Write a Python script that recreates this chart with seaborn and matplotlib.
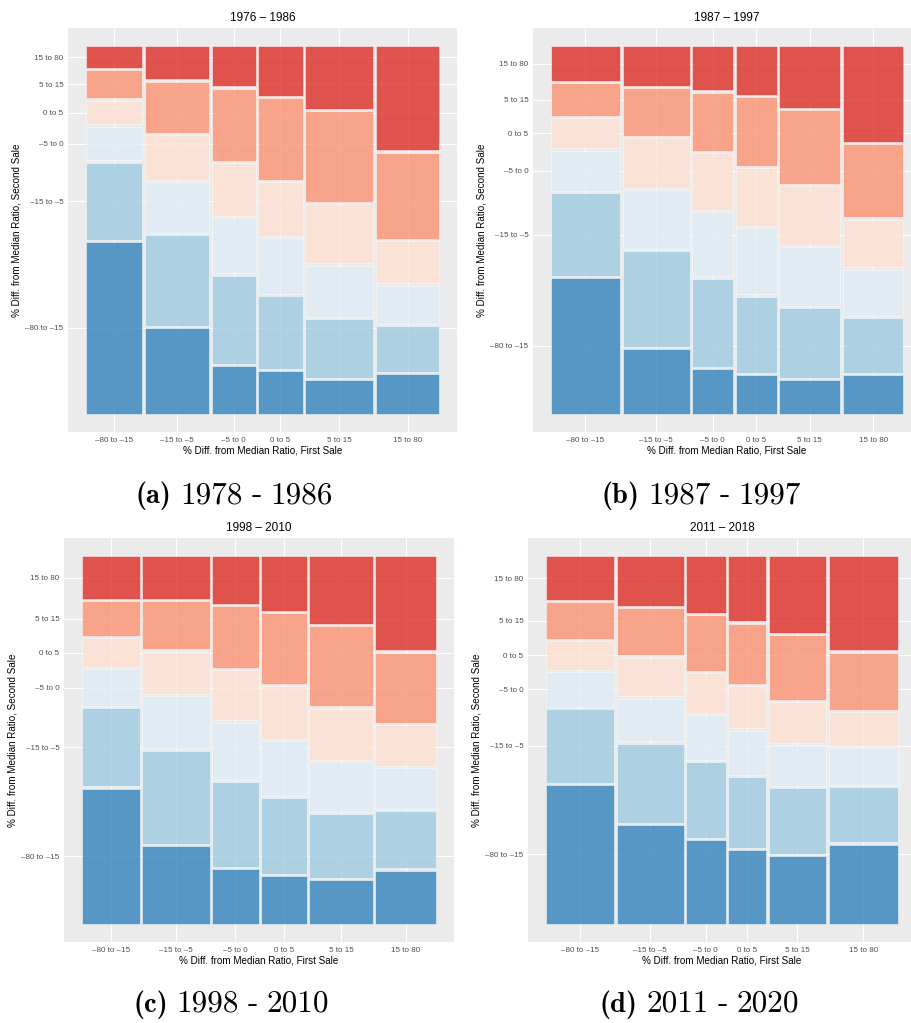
import numpy as np
import matplotlib
matplotlib.use("Agg")
import matplotlib.pyplot as plt
import seaborn as sns

# ---------------------------------------------------------------- data
bins = ["–80 to –15", "–15 to –5", "–5 to 0", "0 to 5", "5 to 15", "15 to 80"]

panel_titles = ["1976 – 1986", "1987 – 1997", "1998 – 2010", "2011 – 2018"]
caption_tags = ["(a)", "(b)", "(c)", "(d)"]
caption_years = ["1978 - 1986", "1987 - 1997", "1998 - 2010", "2011 - 2020"]

# share of sale pairs in each first-sale bin (%)
first_share_a = [16.6, 18.9, 12.8, 13.1, 19.9, 18.6]
first_share_b = [20.4, 19.7, 12.1, 12.0, 18.0, 17.8]
first_share_c = [17.0, 19.7, 13.6, 13.4, 18.5, 17.9]
first_share_d = [20.2, 19.6, 11.6, 11.2, 16.9, 20.5]

# within each first-sale bin: share of second-sale bins (%), lowest bin first
second_share_a = [
    [48.2, 21.7, 9.5, 6.7, 7.9, 6.1],
    [24.1, 25.5, 14.2, 12.6, 14.4, 9.3],
    [13.3, 24.8, 15.5, 14.7, 20.4, 11.2],
    [12.0, 20.5, 15.6, 15.1, 22.9, 14.0],
    [9.4, 16.6, 14.3, 16.6, 25.6, 17.5],
    [11.0, 12.9, 10.8, 11.8, 24.3, 29.2],
]
second_share_b = [
    [38.0, 23.3, 11.3, 8.4, 9.3, 9.7],
    [18.1, 26.8, 16.6, 14.0, 13.5, 11.0],
    [12.6, 24.7, 18.2, 15.8, 16.4, 12.4],
    [10.8, 21.4, 18.5, 16.3, 19.2, 13.7],
    [9.4, 19.6, 16.6, 16.4, 20.8, 17.2],
    [10.8, 15.5, 12.9, 13.4, 20.5, 26.9],
]
second_share_c = [
    [37.9, 22.0, 10.2, 8.1, 9.8, 12.0],
    [21.7, 26.0, 15.0, 11.8, 13.5, 12.0],
    [15.3, 23.9, 16.0, 14.2, 17.3, 13.3],
    [13.4, 21.2, 15.4, 14.9, 19.9, 15.2],
    [12.3, 17.9, 13.9, 14.4, 22.6, 18.9],
    [14.9, 16.1, 11.4, 11.4, 19.8, 26.4],
]
second_share_d = [
    [38.9, 20.7, 9.8, 8.1, 10.2, 12.3],
    [27.5, 22.3, 12.0, 10.9, 13.3, 13.8],
    [23.4, 21.2, 12.7, 11.0, 15.7, 15.9],
    [20.6, 19.9, 12.5, 11.9, 16.9, 18.3],
    [18.9, 18.6, 11.3, 11.6, 18.2, 21.4],
    [22.2, 15.6, 10.3, 9.5, 16.0, 26.4],
]

# ---------------------------------------------------------------- style
sns.set_theme(style="darkgrid", rc={
    "axes.facecolor": "#EBEBEB",
    "grid.color": "white",
    "grid.linewidth": 0.8,
    "axes.axisbelow": True,
})
plt.rcParams["font.family"] = ["Liberation Sans", "DejaVu Sans"]

fill_hex = ["#3182bd", "#9ecae1", "#deebf7", "#fee0d2", "#fc9272", "#de2d26"]
fill_rgba = [matplotlib.colors.to_rgba(c, 0.8) for c in fill_hex]
edge_rgba = (1, 1, 1, 0.55)
GAP_X = 0.007
GAP_Y = 0.006

W, H = 911, 1023
fig = plt.figure(figsize=(W / 100, H / 100), dpi=100)


def px_axes(left, top, right, bottom):
    return fig.add_axes([left / W, 1 - bottom / H, (right - left) / W, (bottom - top) / H])


def draw_mosaic(ax, first_share, second_share, title):
    n = len(first_share)
    widths = np.asarray(first_share, float)
    widths = widths / widths.sum() * (1 - GAP_X * (n - 1))
    x0 = 0.0
    xticks, yticks = [], None
    for i, (w, col) in enumerate(zip(widths, second_share)):
        col = np.asarray(col, float)
        heights = col / col.sum() * (1 - GAP_Y * (len(col) - 1))
        bottoms = np.concatenate([[0.0], np.cumsum(heights[:-1] + GAP_Y)])
        ax.bar(np.full(len(col), x0), heights, width=w, bottom=bottoms,
               align="edge", color=fill_rgba, edgecolor=edge_rgba,
               linewidth=0.6, zorder=2)
        xticks.append(x0 + w / 2)
        if i == 0:
            yticks = bottoms + heights / 2
        x0 += w + GAP_X

    ax.set_xlim(-0.05, 1.05)
    ax.set_ylim(-0.05, 1.05)
    ax.set_xticks(xticks)
    ax.set_xticklabels(bins)
    ax.set_yticks(yticks)
    ax.set_yticklabels(bins)
    ax.tick_params(axis="both", length=1.8, width=0.5, color="#333333",
                   pad=1.5, labelsize=5.8, labelcolor="#4D4D4D")
    for s in ax.spines.values():
        s.set_visible(False)
    ax.grid(True, which="major")
    ax.set_xlabel("% Diff. from Median Ratio, First Sale", fontsize=7.1,
                  color="black", labelpad=1.5)
    ax.set_ylabel("% Diff. from Median Ratio, Second Sale", fontsize=7.1,
                  color="black", labelpad=2.5)
    ax.set_title(title, fontsize=8.5, color="black", pad=5)


# right-hand panels run slightly past the page edge
panels = [
    ((68, 28, 457, 432), first_share_a, second_share_a),
    ((533, 28, 921, 432), first_share_b, second_share_b),
    ((64, 538, 454, 942), first_share_c, second_share_c),
    ((528, 538, 916, 942), first_share_d, second_share_d),
]
for (box, fs, ss), title in zip(panels, panel_titles):
    ax = px_axes(*box)
    draw_mosaic(ax, fs, ss, title)

# sub-figure captions: bold tag followed by the year span, laid out word by word
caption_pos = [(136, 503), (602, 503), (133, 1012), (600, 1012)]
fig.canvas.draw()
renderer = fig.canvas.get_renderer()
for (x, y), tag, years in zip(caption_pos, caption_tags, caption_years):
    pieces = [(tag, "cmb10", 20.5)] + [(w, "cmr10", 22.5) for w in years.split(" ")]
    cur = x
    for word, fam, size in pieces:
        t = fig.text(cur / W, 1 - y / H, word, fontsize=size, family=fam,
                     ha="left", va="baseline", color="black")
        bb = t.get_window_extent(renderer=renderer)
        cur = bb.x1 + 8.5

fig.savefig("out.png", dpi=100)
